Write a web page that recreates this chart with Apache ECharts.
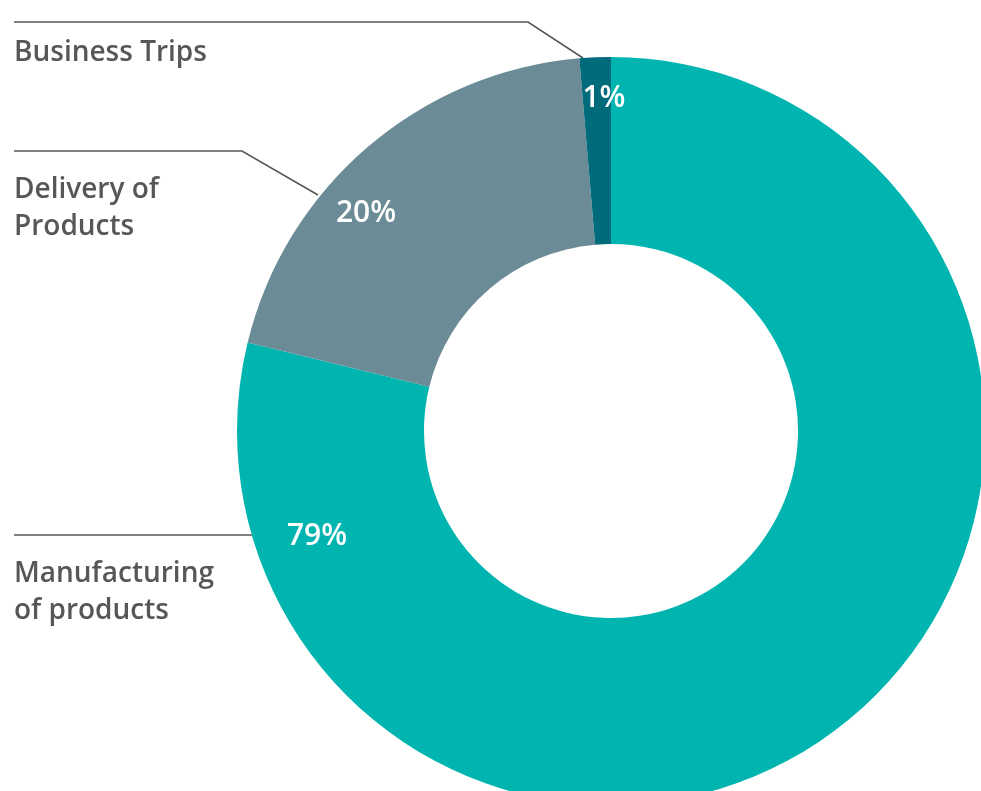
<!DOCTYPE html>
<html>
<head>
<meta charset="utf-8">
<script src="https://cdn.jsdelivr.net/npm/echarts@6/dist/echarts.min.js"></script>
<style>
html,body{margin:0;padding:0;background:#fff;}
#chart{width:981px;height:791px;}
</style>
</head>
<body>
<div id="chart"></div>
<script>
// Data
var categories = ['Manufacturing\nof products', 'Delivery of\nProducts', 'Business Trips'];
var values = [78.8, 19.85, 1.35];
var colors = ['#00b5b0', '#6b8b96', '#006b7a'];

// Label placement (layout only)
var innerLabelPos = [[317, 536], [366, 213], [604, 98]];
var outerLabelPos = [[14, 556], [14, 172], [14, 35]];
var outerLinePts = [
  [[253, 535], [253, 535], [14, 535]],
  [[318, 195], [242, 151], [14, 151]],
  [[583, 58], [528, 22], [14, 22]]
];

var chart = echarts.init(document.getElementById('chart'));
var dataItems = categories.map(function (c, i) {
  return { name: c, value: values[i], itemStyle: { color: colors[i] } };
});
var labelFont = '"Open Sans", "Noto Sans", sans-serif';

chart.setOption({
  animation: false,
  backgroundColor: '#ffffff',
  series: [
    {
      type: 'pie',
      center: [611, 431],
      radius: [187, 374],
      startAngle: 90,
      clockwise: true,
      data: dataItems,
      label: {
        show: true,
        position: 'inside',
        color: '#ffffff',
        fontFamily: labelFont,
        fontSize: 30,
        fontWeight: 600,
        formatter: function (p) { return Math.round(p.percent) + '%'; }
      },
      labelLine: { show: false },
      labelLayout: function (p) {
        var pos = innerLabelPos[p.dataIndex];
        return { x: pos[0], y: pos[1], align: 'center', verticalAlign: 'middle' };
      },
      emphasis: { disabled: true }
    },
    {
      type: 'pie',
      center: [611, 431],
      radius: [187, 374],
      startAngle: 90,
      clockwise: true,
      silent: true,
      data: categories.map(function (c, i) {
        return { name: c, value: values[i], itemStyle: { color: 'rgba(0,0,0,0)' } };
      }),
      label: {
        show: true,
        position: 'outside',
        color: '#575757',
        fontFamily: labelFont,
        fontSize: 28,
        fontWeight: 600,
        lineHeight: 37,
        align: 'left',
        overflow: 'none',
        formatter: '{b}'
      },
      labelLine: {
        show: true,
        lineStyle: { color: '#555555', width: 1.5 }
      },
      labelLayout: function (p) {
        var pos = outerLabelPos[p.dataIndex];
        return {
          x: pos[0], y: pos[1], align: 'left', verticalAlign: 'top',
          labelLinePoints: outerLinePts[p.dataIndex]
        };
      }
    }
  ]
});
</script>
</body>
</html>
